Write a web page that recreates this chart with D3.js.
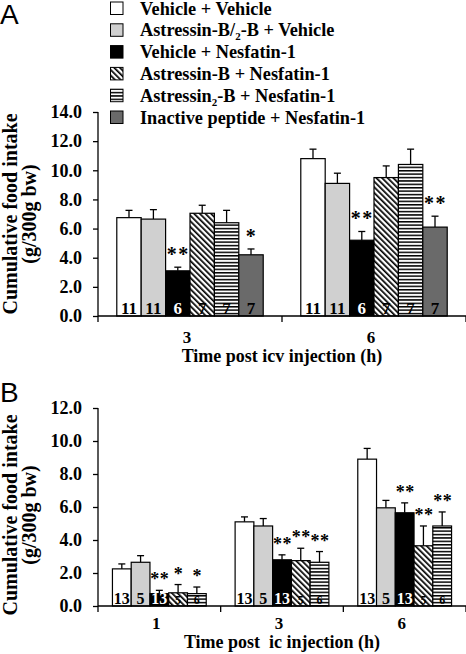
<!DOCTYPE html>
<html>
<head>
<meta charset="utf-8">
<script src="https://cdn.jsdelivr.net/npm/d3@7"></script>
<style>
  html, body { margin: 0; padding: 0; background: #fff; }
  svg text { font-family: "Liberation Serif", "Times New Roman", serif; font-weight: bold; fill: #000; }
</style>
</head>
<body>
<svg id="chart" width="466" height="654"></svg>
<script>
// ---------------- DATA ----------------
const seriesNames = [
  "Vehicle + Vehicle",
  "Astressin-B/_2-B + Vehicle",
  "Vehicle + Nesfatin-1",
  "Astressin-B + Nesfatin-1",
  "Astressin_2-B + Nesfatin-1",
  "Inactive peptide + Nesfatin-1"
];
const seriesFill = ["#ffffff", "#d0d0d0", "#000000", "url(#diag)", "url(#horiz)", "#6a6a6a"];
const labelColor = ["#000", "#000", "#fff", "#000", "#000", "#000"];

// Panel A (icv)
const groupsA = ["3", "6"];
const meanA = [[6.75, 6.65, 3.1, 7.05, 6.4, 4.2], [10.8, 9.1, 5.2, 9.5, 10.4, 6.1]];
const semA  = [[0.5, 0.65, 0.25, 0.55, 0.85, 0.4], [0.65, 0.7, 0.6, 0.8, 1.05, 0.75]];
const nA    = [[11, 11, 6, 7, 7, 7], [11, 11, 6, 7, 7, 7]];
const starsA = [["", "", "**", "", "", "*"], ["", "", "**", "", "", "**"]];
const yTicksA = [0, 2, 4, 6, 8, 10, 12, 14];

// Panel B (ic)
const groupsB = ["1", "3", "6"];
const meanB = [[2.25, 2.65, 0.75, 0.8, 0.75], [5.1, 4.85, 2.8, 2.75, 2.65], [8.9, 5.95, 5.65, 3.65, 4.85]];
const semB  = [[0.3, 0.4, 0.2, 0.5, 0.4], [0.3, 0.45, 0.3, 0.75, 0.65], [0.65, 0.45, 0.6, 1.2, 0.85]];
const nB    = [[13, 5, 13, 5, 6], [13, 5, 13, 5, 6], [13, 5, 13, 5, 6]];
const starsB = [["", "", "**", "*", "*"], ["", "", "**", "**", "**"], ["", "", "**", "**", "**"]];
const yTicksB = [0, 2, 4, 6, 8, 10, 12];

const yTitle1 = "Cumulative food intake";
const yTitle2 = "(g/300g bw)";
const xTitleA = "Time post icv injection (h)";
const xTitleB = "Time post  ic injection (h)";

// ---------------- DRAW ----------------
const svg = d3.select("#chart");
const defs = svg.append("defs");

const pd = defs.append("pattern").attr("id", "diag").attr("patternUnits", "userSpaceOnUse")
  .attr("width", 4).attr("height", 4).attr("patternTransform", "rotate(-45)");
pd.append("rect").attr("width", 4).attr("height", 4).attr("fill", "#fff");
pd.append("rect").attr("x", 0).attr("y", 0).attr("width", 1.7).attr("height", 4).attr("fill", "#000");

const ph = defs.append("pattern").attr("id", "horiz").attr("patternUnits", "userSpaceOnUse")
  .attr("width", 4).attr("height", 3.4);
ph.append("rect").attr("width", 4).attr("height", 3.4).attr("fill", "#fff");
ph.append("rect").attr("x", 0).attr("y", 0).attr("width", 4).attr("height", 1.5).attr("fill", "#000");

function richText(sel, str, fs) {
  const parts = str.split(/_(\d)/);
  parts.forEach((p, i) => {
    if (i % 2 === 1) {
      sel.append("tspan").attr("font-size", fs * 0.6).attr("dy", 4).text(p);
    } else if (p.length) {
      sel.append("tspan").attr("dy", i === 0 ? 0 : -4).text(p);
    }
  });
}

// Panel letters
svg.append("text").attr("x", 0).attr("y", 24).style("font-family", "'Liberation Sans', Arial, sans-serif")
  .style("font-weight", "normal").attr("font-size", 28).text("A");
svg.append("text").attr("x", 0).attr("y", 402).style("font-family", "'Liberation Sans', Arial, sans-serif")
  .style("font-weight", "normal").attr("font-size", 28).text("B");

// Legend
const leg = svg.append("g");
seriesNames.forEach((name, i) => {
  const cy = 8 + i * 21.8;
  leg.append("rect").attr("x", 110.5).attr("y", cy - 6).attr("width", 12.5).attr("height", 12.5)
    .attr("fill", seriesFill[i]).attr("stroke", "#000").attr("stroke-width", 1);
  const t = leg.append("text").attr("x", 140).attr("y", cy + 6.5).attr("font-size", 18.3);
  richText(t, name, 18.3);
});

function panel(opts) {
  const { groups, mean, sem, ns, stars, yTicks, yMax, x0, x1, yBottom, yTop, xTitle, titleCenterY,
          tickBase, titleBase, numFs, smallNum, starOff, starFs, starLs } = opts;
  const g = svg.append("g");
  const y = d3.scaleLinear().domain([0, yMax]).range([yBottom, yTop]);
  const xg = d3.scaleBand().domain(groups).range([x0, x1]).paddingInner(0).paddingOuter(0);
  const nSeries = mean[0].length;
  const xb = d3.scaleBand().domain(d3.range(nSeries)).range([0, xg.bandwidth()]).paddingInner(0).paddingOuter(0.77);

  groups.forEach((grp, gi) => {
    const gg = g.append("g").attr("transform", `translate(${xg(grp)},0)`);
    d3.range(nSeries).forEach(si => {
      const v = mean[gi][si], e = sem[gi][si];
      const bx = xb(si), bw = xb.bandwidth();
      gg.append("line").attr("x1", bx + bw / 2).attr("x2", bx + bw / 2)
        .attr("y1", y(v)).attr("y2", y(v + e)).attr("stroke", "#000").attr("stroke-width", 1.3);
      gg.append("line").attr("x1", bx + bw / 2 - 3.5).attr("x2", bx + bw / 2 + 3.5)
        .attr("y1", y(v + e)).attr("y2", y(v + e)).attr("stroke", "#000").attr("stroke-width", 1.3);
      gg.append("rect").attr("x", bx).attr("y", y(v)).attr("width", bw).attr("height", y(0) - y(v))
        .attr("fill", seriesFill[si]).attr("stroke", "#000").attr("stroke-width", 1.2);
      const small = smallNum && (si === 3 || si === 4);
      gg.append("text").attr("x", bx + bw / 2).attr("y", y(0) - 2.5).attr("text-anchor", "middle")
        .attr("font-size", small ? numFs - 4 : numFs).style("fill", labelColor[si]).text(ns[gi][si]);
      if (stars[gi][si]) {
        gg.append("text").attr("x", bx + bw / 2 + 0.5).attr("y", y(v + e) - starOff).attr("text-anchor", "middle")
          .attr("font-size", starFs).attr("letter-spacing", starLs)
          .text(stars[gi][si]);
      }
    });
  });

  // y axis
  const ya = g.append("g").attr("transform", `translate(${x0},0)`)
    .call(d3.axisLeft(y).tickValues(yTicks).tickFormat(d3.format(".1f")).tickSize(5).tickPadding(11).tickSizeOuter(0));
  ya.select(".domain").attr("stroke-width", 1.3).attr("d", `M0,${yTop}V${yBottom + 6}`);
  ya.selectAll(".tick line").attr("stroke-width", 1.3);
  ya.selectAll(".tick text").attr("font-size", 18).attr("font-family", null).style("fill", "#000");

  // x axis
  const bounds = groups.map(gp => xg(gp)).concat([x1]);
  g.append("line").attr("x1", x0).attr("x2", x1).attr("y1", yBottom).attr("y2", yBottom)
    .attr("stroke", "#000").attr("stroke-width", 1.3);
  bounds.slice(1).forEach(bx => {
    g.append("line").attr("x1", bx).attr("x2", bx).attr("y1", yBottom).attr("y2", yBottom + 6)
      .attr("stroke", "#000").attr("stroke-width", 1.3);
  });
  groups.forEach(gp => {
    g.append("text").attr("x", xg(gp) + xg.bandwidth() / 2 - 3).attr("y", tickBase)
      .attr("text-anchor", "middle").attr("font-size", 17).text(gp);
  });
  g.append("text").attr("x", (x0 + x1) / 2).attr("y", titleBase).attr("text-anchor", "middle")
    .attr("font-size", 18).attr("xml:space", "preserve").style("white-space", "pre").text(xTitle);

  // y title
  g.append("text").attr("transform", `translate(17,${titleCenterY}) rotate(-90)`)
    .attr("text-anchor", "middle").attr("font-size", 20).text(yTitle1);
  g.append("text").attr("transform", `translate(36,${titleCenterY}) rotate(-90)`)
    .attr("text-anchor", "middle").attr("font-size", 20).text(yTitle2);
}

panel({ groups: groupsA, mean: meanA, sem: semA, ns: nA, stars: starsA, yTicks: yTicksA, yMax: 14,
  x0: 98, x1: 466, yBottom: 316, yTop: 112, xTitle: xTitleA, titleCenterY: 214,
  tickBase: 343, titleBase: 362, numFs: 17, smallNum: false, starOff: 6, starFs: 20, starLs: 1.5 });

panel({ groups: groupsB, mean: meanB, sem: semB, ns: nB, stars: starsB, yTicks: yTicksB, yMax: 12,
  x0: 98, x1: 466, yBottom: 606, yTop: 408, xTitle: xTitleB, titleCenterY: 515,
  tickBase: 629, titleBase: 648, numFs: 16, smallNum: true, starOff: 5, starFs: 18, starLs: 0.5 });
</script>
</body>
</html>
